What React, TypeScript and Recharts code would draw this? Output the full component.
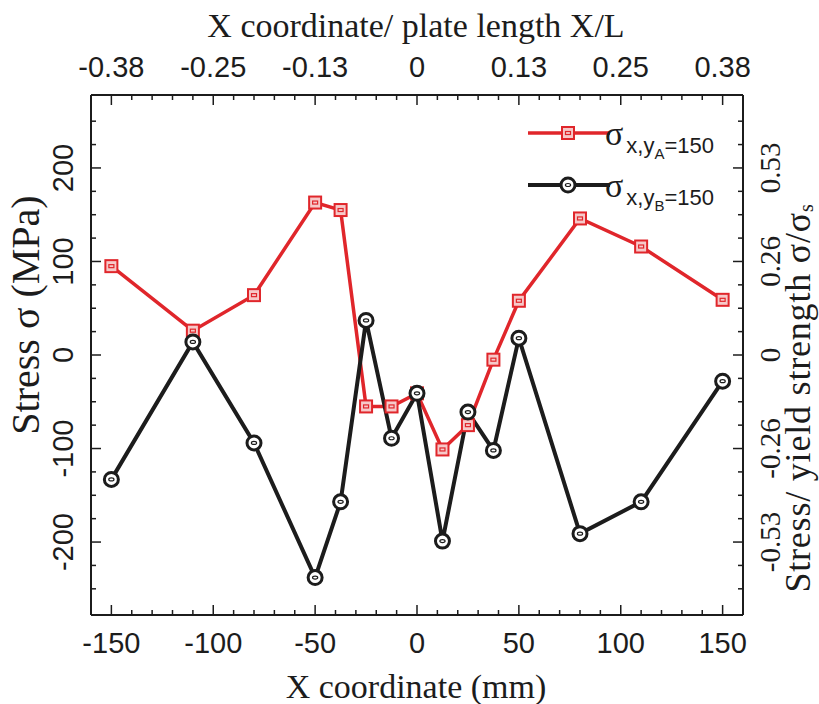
import React from "react";
import { LineChart, Line, XAxis, YAxis } from "recharts";

const xValues = [-150, -110, -80, -50, -37.5, -25, -12.5, 0, 12.5, 25, 37.5, 50, 80, 110, 150];
const sigmaA = [95, 26, 64, 163, 155, -55, -55, -41, -101, -75, -5, 58, 146, 116, 59];
const sigmaB = [-133, 14, -94, -238, -157, 37, -89, -41, -199, -61, -102, 18, -191, -157, -28];

const xMajor = [-150, -100, -50, 0, 50, 100, 150];
const xBottomLabels = ["-150", "-100", "-50", "0", "50", "100", "150"];
const xTopLabels = ["-0.38", "-0.25", "-0.13", "0", "0.13", "0.25", "0.38"];
const yMajor = [-200, -100, 0, 100, 200];
const yLeftLabels = ["-200", "-100", "0", "100", "200"];
const yRightLabels = ["-0.53", "-0.26", "0", "0.26", "0.53"];

const xMinor = Array.from({ length: 31 }, (_, i) => -150 + i * 10);
const yMinor = Array.from({ length: 21 }, (_, i) => -250 + i * 25);

const data = xValues.map((x, i) => ({ x, a: sigmaA[i], b: sigmaB[i] }));

const SERIF = "'Liberation Serif', 'Times New Roman', serif";
const SANS = "'Liberation Sans', Arial, sans-serif";
const RED = "#e0262b";
const INK = "#1c1c1c";
const MAJ = 10;
const MIN = 5;

const labelFor = (majors: number[], labels: string[], v: number) => {
  const i = majors.indexOf(v);
  return i >= 0 ? labels[i] : null;
};

const BottomTick = (p: any) => {
  const { x, y, payload } = p;
  const lab = labelFor(xMajor, xBottomLabels, payload.value);
  return (
    <g>
      <line x1={x} x2={x} y1={y} y2={y - (lab ? MAJ : MIN)} stroke={INK} strokeWidth={1.5} />
      {lab && (
        <text x={x} y={y + 38} textAnchor="middle" fontFamily={SANS} fontSize={29} fill={INK}>
          {lab}
        </text>
      )}
    </g>
  );
};

const TopTick = (p: any) => {
  const { x, y, payload } = p;
  const lab = labelFor(xMajor, xTopLabels, payload.value);
  return (
    <g>
      <line x1={x} x2={x} y1={y} y2={y + (lab ? MAJ : MIN)} stroke={INK} strokeWidth={1.5} />
      {lab && (
        <text x={x} y={y - 18} textAnchor="middle" fontFamily={SANS} fontSize={29} fill={INK}>
          {lab}
        </text>
      )}
    </g>
  );
};

const LeftTick = (p: any) => {
  const { x, y, payload } = p;
  const lab = labelFor(yMajor, yLeftLabels, payload.value);
  const bx = x - 18;
  return (
    <g>
      <line x1={x} x2={x + (lab ? MAJ : MIN)} y1={y} y2={y} stroke={INK} strokeWidth={1.5} />
      {lab && (
        <text x={bx} y={y} transform={`rotate(-90 ${bx} ${y})`} textAnchor="middle" fontFamily={SANS} fontSize={29} fill={INK}>
          {lab}
        </text>
      )}
    </g>
  );
};

const RightTick = (p: any) => {
  const { x, y, payload } = p;
  const lab = labelFor(yMajor, yRightLabels, payload.value);
  const bx = x + 37;
  return (
    <g>
      <line x1={x} x2={x - (lab ? MAJ : MIN)} y1={y} y2={y} stroke={INK} strokeWidth={1.5} />
      {lab && (
        <text x={bx} y={y} transform={`rotate(-90 ${bx} ${y})`} textAnchor="middle" fontFamily={SERIF} fontSize={29} fill={INK}>
          {lab}
        </text>
      )}
    </g>
  );
};

const SquareMark = ({ cx, cy }: { cx: number; cy: number }) => (
  <g>
    <rect x={cx - 6} y={cy - 6} width={12} height={12} fill="#f6c9c9" stroke={RED} strokeWidth={2} />
    <rect x={cx - 2.5} y={cy - 1.5} width={5} height={3} fill="none" stroke={RED} strokeWidth={1.2} />
  </g>
);

const CircleMark = ({ cx, cy }: { cx: number; cy: number }) => (
  <g>
    <circle cx={cx} cy={cy} r={7} fill="#ffffff" stroke={INK} strokeWidth={3} />
    <ellipse cx={cx} cy={cy} rx={2.6} ry={1.5} fill="none" stroke={INK} strokeWidth={1.2} />
  </g>
);

const SquareDot = (p: any) => (p.cx == null ? null : <SquareMark key={`s${p.index}`} cx={p.cx} cy={p.cy} />);
const CircleDot = (p: any) => (p.cx == null ? null : <CircleMark key={`c${p.index}`} cx={p.cx} cy={p.cy} />);

const W = 819;
const H = 704;

export default function App() {
  return (
    <div style={{ position: "relative", width: W, height: H, overflow: "hidden" }}>
      <style>{`html,body{margin:0;padding:0;overflow:hidden;background:#fff}`}</style>
      <LineChart width={W} height={H} data={data} margin={{ top: 45, right: 16, bottom: 39, left: 31 }}>
        <XAxis
          xAxisId="bottom"
          dataKey="x"
          type="number"
          domain={[-160, 160]}
          ticks={xMinor}
          interval={0}
          orientation="bottom"
          height={50}
          tickSize={0}
          tickMargin={0}
          tickLine={false}
          axisLine={{ stroke: INK, strokeWidth: 2 }}
          tick={BottomTick}
        />
        <XAxis
          xAxisId="top"
          dataKey="x"
          type="number"
          domain={[-160, 160]}
          ticks={xMinor}
          interval={0}
          orientation="top"
          height={50}
          tickSize={0}
          tickMargin={0}
          tickLine={false}
          axisLine={{ stroke: INK, strokeWidth: 2 }}
          tick={TopTick}
        />
        <YAxis
          yAxisId="left"
          type="number"
          domain={[-278, 278]}
          ticks={yMinor}
          interval={0}
          orientation="left"
          width={60}
          tickSize={0}
          tickMargin={0}
          tickLine={false}
          axisLine={{ stroke: INK, strokeWidth: 2 }}
          tick={LeftTick}
        />
        <YAxis
          yAxisId="right"
          type="number"
          domain={[-278, 278]}
          ticks={yMinor}
          interval={0}
          orientation="right"
          width={60}
          tickSize={0}
          tickMargin={0}
          tickLine={false}
          axisLine={{ stroke: INK, strokeWidth: 2 }}
          tick={RightTick}
        />
        <Line
          xAxisId="top"
          yAxisId="right"
          dataKey="a"
          stroke="none"
          strokeWidth={0}
          dot={false}
          activeDot={false}
          legendType="none"
          isAnimationActive={false}
        />
        <Line
          xAxisId="bottom"
          yAxisId="left"
          dataKey="a"
          stroke={RED}
          strokeWidth={3.5}
          dot={SquareDot}
          activeDot={false}
          isAnimationActive={false}
        />
        <Line
          xAxisId="bottom"
          yAxisId="left"
          dataKey="b"
          stroke={INK}
          strokeWidth={4}
          dot={CircleDot}
          activeDot={false}
          isAnimationActive={false}
        />
      </LineChart>
      <svg
        width={W}
        height={H}
        style={{ position: "absolute", left: 0, top: 0, pointerEvents: "none" }}
      >
        <text x={416} y={37} textAnchor="middle" fontFamily={SERIF} fontSize={34} fill={INK}>
          X coordinate/ plate length X/L
        </text>
        <text x={416} y={698} textAnchor="middle" fontFamily={SERIF} fontSize={34} fill={INK}>
          X coordinate (mm)
        </text>
        <text x={39} y={315} transform="rotate(-90 39 315)" textAnchor="middle" fontFamily={SERIF} fontSize={40} fill={INK}>
          Stress σ (MPa)
        </text>
        <text
          x={810}
          y={398}
          transform="rotate(-90 810 398)"
          textAnchor="middle"
          fontFamily={SERIF}
          fontSize={36}
          letterSpacing={0.8}
          fill={INK}
        >
          Stress/ yield strength σ/σ<tspan fontSize={20} dy={3}>s</tspan>
        </text>

        <line x1={528} x2={610} y1={133} y2={133} stroke={RED} strokeWidth={3.5} />
        <SquareMark cx={568} cy={133} />
        <text x={605} y={145} fill={INK}>
          <tspan fontFamily={SERIF} fontSize={34}>σ</tspan>
          <tspan fontFamily={SANS} fontSize={22} dx={3} dy={8}>x,y</tspan>
          <tspan fontFamily={SANS} fontSize={15} dy={6}>A</tspan>
          <tspan fontFamily={SANS} fontSize={22} dy={-6}>=150</tspan>
        </text>

        <line x1={528} x2={610} y1={185} y2={185} stroke={INK} strokeWidth={4} />
        <CircleMark cx={568} cy={185} />
        <text x={605} y={197} fill={INK}>
          <tspan fontFamily={SERIF} fontSize={34}>σ</tspan>
          <tspan fontFamily={SANS} fontSize={22} dx={3} dy={8}>x,y</tspan>
          <tspan fontFamily={SANS} fontSize={15} dy={6}>B</tspan>
          <tspan fontFamily={SANS} fontSize={22} dy={-6}>=150</tspan>
        </text>
      </svg>
    </div>
  );
}
